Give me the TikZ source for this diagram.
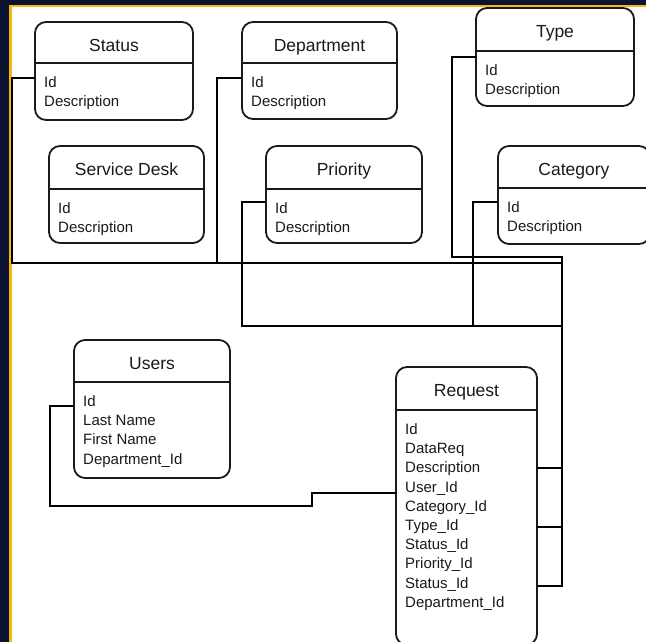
\documentclass[tikz,border=0pt]{standalone}
\usepackage{fontspec}
\setmainfont{Liberation Sans}
\definecolor{navy}{HTML}{0C1330}
\definecolor{gold}{HTML}{F4B90C}
\definecolor{ink}{HTML}{1A1A1A}
\tikzset{
  ebox/.style={draw=ink, line width=1.8pt, rounded corners=11pt, fill=white, outer sep=0pt, inner sep=0pt},
  divider/.style={draw=ink, line width=1.8pt},
  ttl/.style={anchor=base, inner sep=0pt, font=\fontsize{17.5}{21}\selectfont, text=ink},
  row/.style={anchor=base west, inner sep=0pt, font=\fontsize{15}{19}\selectfont, text=ink},
  conn/.style={draw=black, line width=1.1pt},
}
% #1 name, #2 left, #3 top, #4 width, #5 height, #6 header height, #7 title, #8 rows
\newcommand\entity[8]{%
  \node[ebox, minimum width=#4pt, minimum height=#5pt, anchor=north west] (#1) at (#2,#3) {};
  \draw[divider] ([yshift=-#6pt]#1.north west) -- ([yshift=-#6pt]#1.north east);
  \node[ttl] (#1-t) at ([yshift=-29.5pt]#1.north) {#7};
  \foreach \r [count=\i] in {#8}
    \node[row] (#1-\i) at ([xshift=9pt, yshift={-(#6+24.5+19.2*(\i-1))*1pt}]#1.north west) {\r};
}
\begin{document}
\begin{tikzpicture}[x=1pt, y=-1pt]
\useasboundingbox (0,0) rectangle (646,642);
\clip (0,0) rectangle (646,642);
% frame
\fill[navy] (0,0) rectangle (646,642);
\fill[gold] (9,4.8) rectangle (646,7.3);
\fill[gold] (9,4.8) rectangle (11.5,642);
\fill[white] (11.5,7.3) rectangle (646,642);

% junction coordinates
\coordinate (jL) at (12,263);
\coordinate (jD) at (217,263);
\coordinate (jR) at (562,263);
\coordinate (tB) at (452,257);
\coordinate (tR) at (562,257);
\coordinate (pB) at (242,326);
\coordinate (pR) at (562,326);
\coordinate (cB) at (473,326);
\coordinate (uB) at (50,506);
\coordinate (uM) at (312,506);

% entities
\entity{status}{35}{22}{158}{98}{41}{Status}{Id,Description}
\entity{dept}{242}{22}{155}{97}{41}{Department}{Id,Description}
\entity{type}{476}{8}{158}{98}{43}{Type}{Id,Description}
\entity{sdesk}{49}{146}{155}{97}{43}{Service Desk}{Id,Description}
\entity{priority}{266}{146}{156}{97}{43}{Priority}{Id,Description}
\entity{category}{498}{146}{152}{98}{42}{Category}{Id,Description}
\entity{users}{74}{340}{156}{138}{42}{Users}{Id,Last Name,First Name,Department\_Id}
\entity{request}{396}{367}{141}{278}{43}{Request}{Id,DataReq,Description,User\_Id,Category\_Id,Type\_Id,Status\_Id,Priority\_Id,Status\_Id,Department\_Id}

% connectors
\draw[conn] ([yshift=-56pt]status.north west) -| (jL) -- (jR);
\draw[conn] ([yshift=-56pt]dept.north west) -| (jD);
\draw[conn] ([yshift=-49pt]type.north west) -| (tB) -- (tR) |- ([yshift=-219pt]request.north east);
\draw[conn] ([yshift=-101pt]request.north east) -| (tR);
\draw[conn] ([yshift=-160pt]request.north east) -| (tR);
\draw[conn] ([yshift=-56pt]priority.north west) -| (pB) -- (pR);
\draw[conn] ([yshift=-56pt]category.north west) -| (cB);
\draw[conn] ([yshift=-66pt]users.north west) -| (uB) -- (uM) |- ([yshift=-126pt]request.north west);
\end{tikzpicture}
\end{document}
